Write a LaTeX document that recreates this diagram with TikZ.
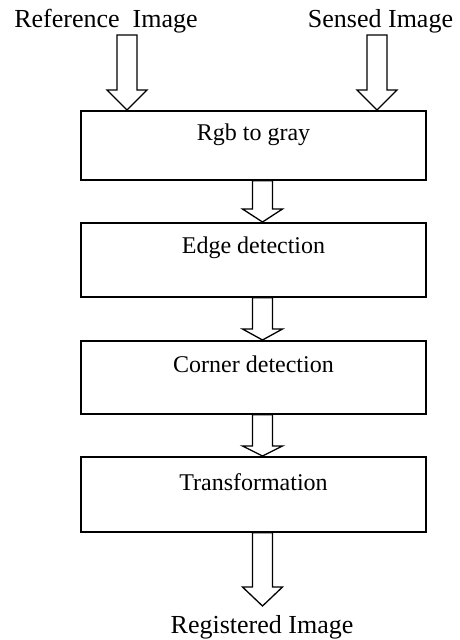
\documentclass[tikz,border=0pt]{standalone}
\usepackage{fontspec}
\setmainfont{Liberation Serif}
\usetikzlibrary{calc}

% hollow block arrow from #1 down to #2, head length #3 (pt)
\newcommand\hollowarrow[3]{%
  \draw[blockarrow] let \p1=(#1), \p2=(#2) in
    (\x1-10pt,\y1) -- (\x1-10pt,\y2+#3pt) -- (\x1-20pt,\y2+#3pt) -- (\x1,\y2)
    -- (\x1+20pt,\y2+#3pt) -- (\x1+10pt,\y2+#3pt) -- (\x1+10pt,\y1) -- cycle;}

\tikzset{
  stagebox/.style={draw, line width=1.8pt, rectangle, inner sep=0pt,
    minimum width=345pt, anchor=north, align=center,
    font=\fontsize{24}{28}\selectfont},
  ioText/.style={anchor=base, inner sep=0pt, font=\fontsize{26}{30}\selectfont},
  blockarrow/.style={draw, line width=1.3pt, fill=white, line join=miter},
}

\begin{document}
\begin{tikzpicture}[x=1pt, y=-1pt]
  \useasboundingbox[fill=white] (0,0) rectangle (459,640);

  % input and output labels
  \node[ioText] (ref) at (106,27) {Reference\ \ Image};
  \node[ioText] (sensed) at (380.5,27) {Sensed Image};
  \node[ioText] (reg) at (262,633) {Registered Image};

  % processing stages
  \node[stagebox, text height=30pt, text depth=39pt] (rgb) at (253.5,110) {Rgb to gray};
  \node[stagebox, text height=31pt, text depth=43pt] (edge) at (253.5,222) {Edge detection};
  \node[stagebox, text height=32pt, text depth=41pt] (corner) at (253.5,340) {Corner detection};
  \node[stagebox, text height=34pt, text depth=41pt] (trans) at (253.5,456) {Transformation};

  % arrow start points
  \coordinate (refsrc) at (127,35);
  \coordinate (sensrc) at (377,35);
  \coordinate (flow) at (262.5,0);
  \coordinate (outend) at (262.5,606);

  \hollowarrow{refsrc}{refsrc |- rgb.north}{20}
  \hollowarrow{sensrc}{sensrc |- rgb.north}{20}
  \hollowarrow{flow |- rgb.south}{flow |- edge.north}{13}
  \hollowarrow{flow |- edge.south}{flow |- corner.north}{11}
  \hollowarrow{flow |- corner.south}{flow |- trans.north}{10}
  \hollowarrow{flow |- trans.south}{outend}{19}
\end{tikzpicture}
\end{document}
